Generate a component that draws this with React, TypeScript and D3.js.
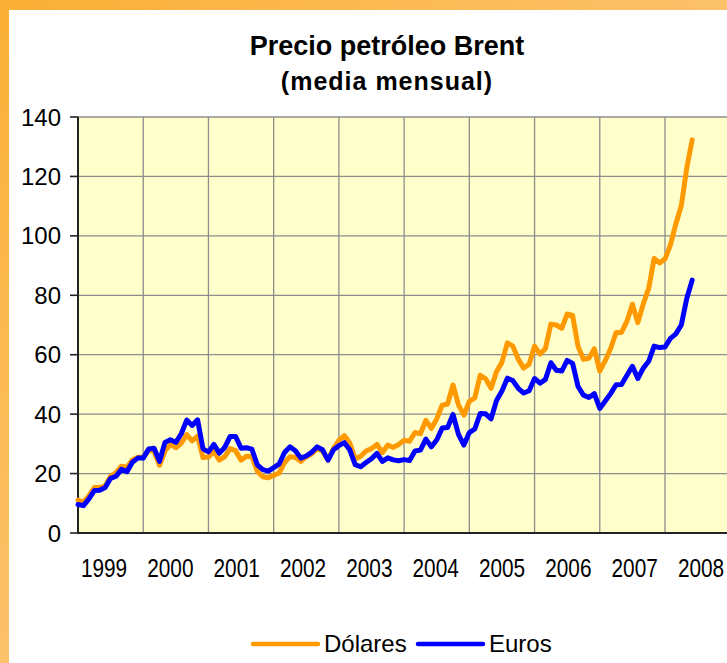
import * as d3 from "d3";
import React, { useEffect, useRef } from "react";

// monthly averages, Jan 1999 .. Jun 2008
const years = ["1999", "2000", "2001", "2002", "2003", "2004", "2005", "2006", "2007", "2008"];
const yTicks = [0, 20, 40, 60, 80, 100, 120, 140];

const dolares = [
  11.1, 10.3, 12.5, 15.3, 15.3, 15.9, 19.1, 20.3, 22.5, 22.1, 24.6, 25.5,
  25.5, 27.8, 27.5, 22.8, 27.6, 29.8, 28.7, 30.2, 33.1, 31.0, 32.6, 25.4,
  25.6, 27.5, 24.5, 25.7, 28.4, 27.7, 24.5, 25.8, 25.7, 20.7, 18.9, 18.6,
  19.4, 20.2, 23.7, 25.7, 25.4, 24.1, 25.7, 26.6, 28.4, 27.5, 24.5, 28.5,
  31.2, 32.8, 30.3, 25.0, 25.8, 27.6, 28.4, 29.8, 27.1, 29.6, 28.8, 29.8,
  31.2, 30.9, 33.8, 33.4, 37.9, 35.2, 38.4, 43.0, 43.4, 49.8, 43.1, 39.7,
  44.3, 45.5, 53.1, 51.9, 48.7, 54.3, 57.5, 64.0, 62.9, 58.5, 55.5, 56.8,
  62.9, 60.2, 62.1, 70.3, 70.0, 68.9, 73.7, 73.2, 62.8, 58.5, 58.8, 62.0,
  54.5, 58.0, 62.1, 67.5, 67.5, 71.3, 77.0, 70.8, 77.1, 82.3, 92.4, 90.9,
  92.2, 97.0, 104.0, 110.2, 122.8, 132.3,
];

const euros = [
  9.6, 9.2, 11.5, 14.3, 14.4, 15.3, 18.4, 19.1, 21.4, 20.6, 23.8, 25.2,
  25.2, 28.3, 28.5, 24.1, 30.5, 31.4, 30.5, 33.4, 38.0, 36.2, 38.1, 28.3,
  27.3, 29.8, 26.9, 28.8, 32.5, 32.5, 28.5, 28.7, 28.2, 22.9, 21.3, 20.8,
  22.0, 23.2, 27.1, 29.0, 27.7, 25.2, 25.9, 27.2, 29.0, 28.0, 24.5, 28.0,
  29.4, 30.4, 28.0, 23.0, 22.3, 23.7, 25.0, 26.8, 24.1, 25.3, 24.6, 24.3,
  24.7, 24.4, 27.6, 27.9, 31.6, 29.0, 31.3, 35.3, 35.5, 39.9, 33.2, 29.6,
  33.8, 35.0, 40.2, 40.1, 38.4, 44.6, 47.8, 52.1, 51.3, 48.7, 47.1, 47.9,
  52.0, 50.4, 51.7, 57.3, 54.8, 54.5, 58.1, 57.1, 49.3, 46.4, 45.6, 46.9,
  41.9, 44.4, 46.9, 49.9, 50.0, 53.1, 56.1, 52.0, 55.5, 57.8, 62.9, 62.4,
  62.6, 65.5, 67.0, 70.0, 78.9, 85.1,
];

const series = [
  { name: "Dólares", values: dolares, color: "#ff9900" },
  { name: "Euros", values: euros, color: "#0000ff" },
];

const App = () => {
  const ref = useRef<SVGSVGElement>(null);

  useEffect(() => {
    const width = 727;
    const height = 663;
    const top = 117;
    const bottom = 533;
    const font = "Liberation Sans, Arial, sans-serif";

    // one category per month, gridline every 12
    const x = d3.scaleLinear().domain([0, 108]).range([78, 665]);
    const y = d3.scaleLinear().domain([0, 140]).range([bottom, top]);
    const left = x(0);
    const right = x(121);
    // year labels sit a bit wider than the grid
    const xLabel = d3.scalePoint<string>().domain(years).range([104, 701]);

    const svg = d3.select(ref.current).attr("width", width).attr("height", height);
    svg.selectAll("*").remove();

    const grad = svg
      .append("defs")
      .append("linearGradient")
      .attr("id", "frame")
      .attr("x1", 0)
      .attr("y1", 0)
      .attr("x2", 1)
      .attr("y2", 1);
    grad.append("stop").attr("offset", 0).attr("stop-color", "#fbb035");
    grad.append("stop").attr("offset", 1).attr("stop-color", "#fdd3a0");

    svg.append("rect").attr("width", width).attr("height", height).attr("fill", "url(#frame)");
    svg.append("rect").attr("x", 9).attr("y", 10).attr("width", width).attr("height", height).attr("fill", "#fff");

    // title
    const title = svg
      .append("g")
      .attr("font-family", font)
      .attr("font-weight", "bold")
      .attr("text-anchor", "middle")
      .attr("fill", "#000");
    title.append("text").attr("x", 387).attr("y", 55).attr("font-size", 27).text("Precio petróleo Brent");
    title
      .append("text")
      .attr("x", 387)
      .attr("y", 90)
      .attr("font-size", 25)
      .attr("letter-spacing", 1)
      .text("(media mensual)");

    // plot area
    svg
      .append("rect")
      .attr("x", left)
      .attr("y", top)
      .attr("width", right - left)
      .attr("height", bottom - top)
      .attr("fill", "#ffffcc");

    svg
      .append("g")
      .attr("stroke", "#8c8c8c")
      .attr("stroke-width", 1.3)
      .selectAll("line")
      .data(yTicks.slice(1))
      .join("line")
      .attr("x1", left)
      .attr("x2", right)
      .attr("y1", (d) => y(d))
      .attr("y2", (d) => y(d));

    svg
      .append("g")
      .attr("stroke", "#8c8c8c")
      .attr("stroke-width", 1.3)
      .selectAll("line")
      .data(years.map((_, i) => (i + 1) * 12))
      .join("line")
      .attr("x1", (d) => x(d))
      .attr("x2", (d) => x(d))
      .attr("y1", top)
      .attr("y2", bottom);

    // axes
    svg
      .append("g")
      .attr("stroke", "#222")
      .attr("stroke-width", 1.6)
      .selectAll("line")
      .data(yTicks)
      .join("line")
      .attr("x1", left - 8)
      .attr("x2", left)
      .attr("y1", (d) => y(d))
      .attr("y2", (d) => y(d));
    svg
      .append("line")
      .attr("x1", left)
      .attr("x2", left)
      .attr("y1", top)
      .attr("y2", bottom + 1)
      .attr("stroke", "#222")
      .attr("stroke-width", 2);
    svg
      .append("line")
      .attr("x1", left)
      .attr("x2", right)
      .attr("y1", bottom)
      .attr("y2", bottom)
      .attr("stroke", "#222")
      .attr("stroke-width", 2);

    svg
      .append("g")
      .attr("font-family", font)
      .attr("font-size", 24)
      .attr("text-anchor", "end")
      .selectAll("text")
      .data(yTicks)
      .join("text")
      .attr("x", 61)
      .attr("y", (d) => y(d) + 8.6)
      .text((d) => d);

    svg
      .append("g")
      .attr("font-family", font)
      .attr("font-size", 26)
      .attr("text-anchor", "middle")
      .selectAll("text")
      .data(years)
      .join("text")
      .attr("transform", (d) => `translate(${xLabel(d)},577) scale(0.8,1)`)
      .text((d) => d);

    // lines
    const line = d3
      .line<number>()
      .x((_, i) => x(i))
      .y((d) => y(d));

    svg
      .append("g")
      .selectAll("path")
      .data(series)
      .join("path")
      .attr("d", (s) => line(s.values))
      .attr("fill", "none")
      .attr("stroke", (s) => s.color)
      .attr("stroke-width", 5)
      .attr("stroke-linejoin", "round")
      .attr("stroke-linecap", "round");

    // legend
    const legendX = [253, 418];
    const legend = svg
      .append("g")
      .selectAll("g")
      .data(series)
      .join("g")
      .attr("transform", (_, i) => `translate(${legendX[i]},644)`);
    legend
      .append("line")
      .attr("x1", 0)
      .attr("x2", 65)
      .attr("stroke", (s) => s.color)
      .attr("stroke-width", 4.5)
      .attr("stroke-linecap", "round");
    legend
      .append("text")
      .attr("x", 71)
      .attr("y", 8)
      .attr("font-family", font)
      .attr("font-size", 24)
      .text((s) => s.name);
  }, []);

  return <svg ref={ref} style={{ position: "absolute", left: 0, top: 0 }} />;
};

export default App;
